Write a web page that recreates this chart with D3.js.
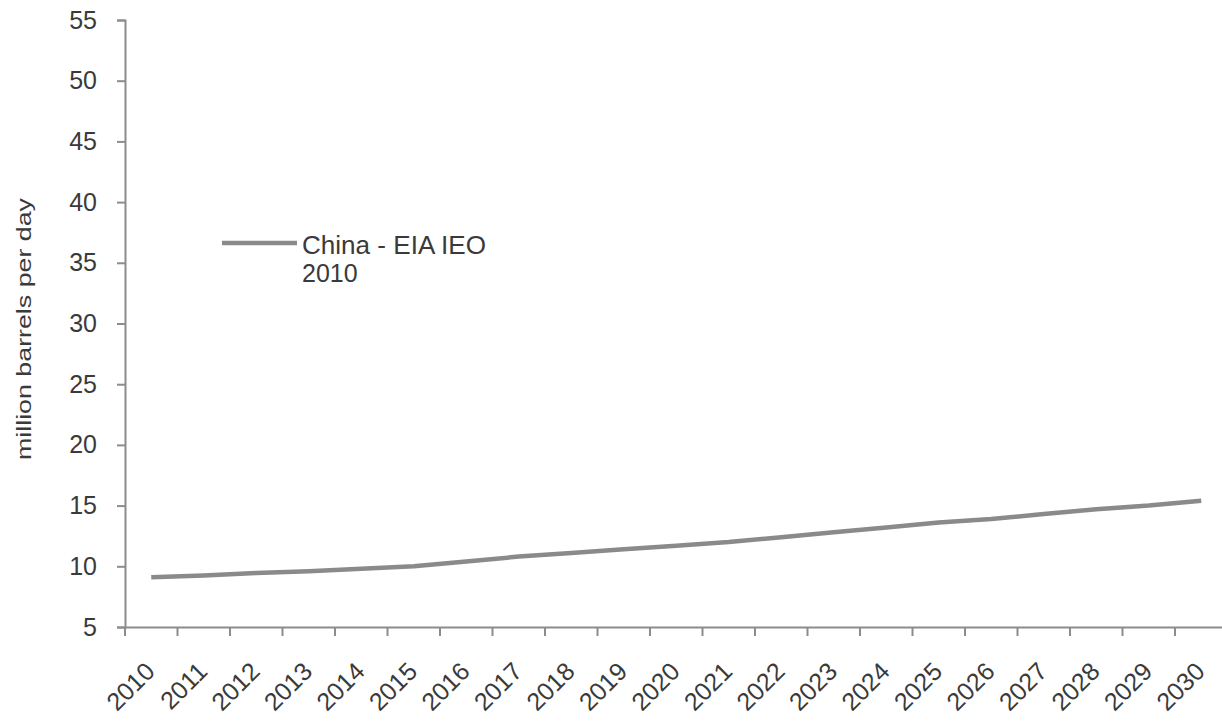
<!DOCTYPE html>
<html>
<head>
<meta charset="utf-8">
<script src="https://cdn.jsdelivr.net/npm/d3@7"></script>
<style>
  html, body { margin: 0; padding: 0; background: #ffffff; }
  svg { display: block; font-family: "Liberation Sans", Arial, sans-serif; }
</style>
</head>
<body>
<svg id="chart" width="1222" height="725"></svg>
<script>
const years = ["2010","2011","2012","2013","2014","2015","2016","2017","2018","2019","2020",
               "2021","2022","2023","2024","2025","2026","2027","2028","2029","2030"];
const chinaEIA = [9.1, 9.25, 9.45, 9.6, 9.8, 10.0, 10.4, 10.8, 11.1, 11.4, 11.7,
                  12.0, 12.4, 12.8, 13.2, 13.6, 13.9, 14.3, 14.7, 15.0, 15.4];
const yTicks = [5, 10, 15, 20, 25, 30, 35, 40, 45, 50, 55];
const seriesName = ["China - EIA IEO", "2010"];
const yTitle = "million barrels per day";

const svg = d3.select("#chart");
const axisColor = "#8c8c8c";
const textColor = "#3a3a3a";

const x = d3.scaleBand().domain(years).range([125, 1227.5]).paddingInner(0).paddingOuter(0);
const y = d3.scaleLinear().domain([5, 55]).range([627, 20]);

// Y axis
const yAxis = svg.append("g")
  .attr("transform", "translate(125,0)")
  .call(d3.axisLeft(y).tickValues(yTicks).tickSize(8).tickPadding(20).tickFormat(d3.format("d")));
yAxis.select(".domain").attr("stroke", axisColor).attr("stroke-width", 2);
yAxis.selectAll(".tick line").attr("stroke", axisColor).attr("stroke-width", 2);
yAxis.selectAll(".tick text")
  .attr("fill", textColor)
  .style("font-size", "25px")
  .style("font-family", "'Liberation Sans', Arial, sans-serif");

// X axis line
const xAxis = svg.append("g").attr("transform", "translate(0,627)")
  .call(d3.axisBottom(x).tickSize(0).tickFormat(""));
xAxis.select(".domain").attr("stroke", axisColor).attr("stroke-width", 2);
xAxis.selectAll(".tick").remove();

// x ticks at band boundaries
const boundaries = years.map(d => x(d)).concat([x(years[years.length - 1]) + x.bandwidth()]);
svg.append("g").selectAll("line")
  .data(boundaries)
  .join("line")
  .attr("x1", d => d).attr("x2", d => d)
  .attr("y1", 627).attr("y2", 636)
  .attr("stroke", axisColor).attr("stroke-width", 2);

// x labels rotated
svg.append("g").selectAll("text")
  .data(years)
  .join("text")
  .attr("transform", d => `translate(${x(d) + x.bandwidth() / 2 + 5},${673}) rotate(-45)`)
  .attr("text-anchor", "end")
  .attr("fill", textColor)
  .style("font-size", "25px")
  .text(d => d);

// Y title
svg.append("text")
  .attr("transform", "translate(31,329) rotate(-90)")
  .attr("text-anchor", "middle")
  .attr("fill", textColor)
  .attr("textLength", 262)
  .attr("lengthAdjust", "spacingAndGlyphs")
  .style("font-size", "21px")
  .text(yTitle);

// Line
const line = d3.line()
  .x((d, i) => x(years[i]) + x.bandwidth() / 2)
  .y(d => y(d));
svg.append("path")
  .datum(chinaEIA)
  .attr("d", line)
  .attr("fill", "none")
  .attr("stroke", "#8a8a8a")
  .attr("stroke-width", 4.5)
  .attr("stroke-linejoin", "round");

// Legend
svg.append("line")
  .attr("x1", 222).attr("x2", 297)
  .attr("y1", 243).attr("y2", 243)
  .attr("stroke", "#8a8a8a").attr("stroke-width", 4.5);
svg.append("g").selectAll("text")
  .data(seriesName)
  .join("text")
  .attr("x", 302)
  .attr("y", (d, i) => 254 + i * 28)
  .attr("fill", textColor)
  .attr("textLength", (d, i) => i === 0 ? 184 : null)
  .attr("lengthAdjust", "spacingAndGlyphs")
  .style("font-size", "25px")
  .text(d => d);
</script>
</body>
</html>
